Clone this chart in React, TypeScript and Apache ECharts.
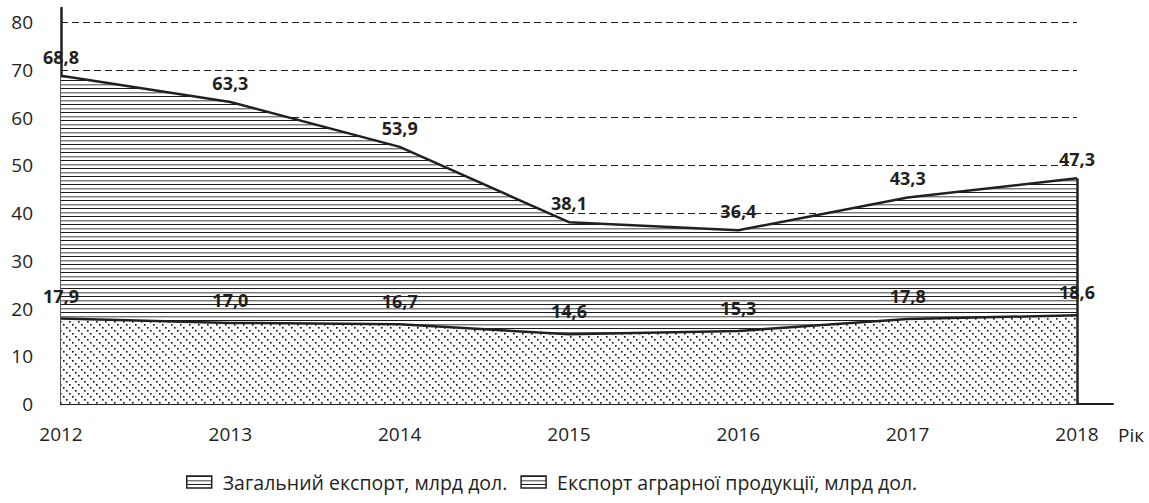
import React, { useEffect, useRef } from "react";
import * as echarts from "echarts";

const years = [2012, 2013, 2014, 2015, 2016, 2017, 2018];
const totalExport = [68.8, 63.3, 53.9, 38.1, 36.4, 43.3, 47.3];
const agroExport = [17.9, 17.0, 16.7, 14.6, 15.3, 17.8, 18.6];
const seriesNames = [
  "Загальний експорт, млрд дол.",
  "Експорт аграрної продукції, млрд дол.",
];
const xAxisName = "Рік";
const yTicks = [0, 10, 20, 30, 40, 50, 60, 70, 80];

const FONT = "'Open Sans', 'Noto Sans', sans-serif";
const INK = "#231f20";

function fmt(v: number) {
  return v.toFixed(1).replace(".", ",");
}

function makeStripes() {
  const c = document.createElement("canvas");
  c.width = 8;
  c.height = 8;
  const ctx = c.getContext("2d")!;
  ctx.fillStyle = "#ffffff";
  ctx.fillRect(0, 0, 8, 8);
  ctx.fillStyle = "#1a1a1a";
  ctx.fillRect(0, 0, 8, 1);
  ctx.fillStyle = "#7a7a7a";
  ctx.fillRect(0, 4, 8, 1);
  ctx.fillStyle = "#c4c4c4";
  ctx.fillRect(0, 5, 8, 1);
  return c;
}

function makeDots() {
  const n = 9;
  const c = document.createElement("canvas");
  c.width = n;
  c.height = n;
  const ctx = c.getContext("2d")!;
  ctx.fillStyle = "#ffffff";
  ctx.fillRect(0, 0, n, n);
  ctx.fillStyle = "#111111";
  for (let i = 0; i < n; i += 3) {
    ctx.fillRect(i, i, 1.6, 1.6);
  }
  return c;
}

export default function App() {
  const ref = useRef<HTMLDivElement>(null);

  useEffect(() => {
    document.body.style.margin = "0";
    if (!ref.current) return;
    const chart = echarts.init(ref.current, undefined, { renderer: "svg" });
    const stripes = { image: makeStripes(), repeat: "repeat" };
    const dots = { image: makeDots(), repeat: "repeat" };
    const last = years.length - 1;

    const labelBase = {
      show: true,
      position: "top",
      fontFamily: FONT,
      fontWeight: "bold",
      fontSize: 18,
      color: INK,
      formatter: (p: any) => fmt(p.value[1]),
    };

    const option: any = {
      animation: false,
      backgroundColor: "#ffffff",
      grid: [
        { left: 61, right: 72, top: 8, bottom: 99, containLabel: false },
        { left: 61, right: 36, top: 8, bottom: 99, containLabel: false },
      ],
      xAxis: [
        {
          type: "value",
          gridIndex: 0,
          min: years[0],
          max: years[last],
          interval: 1,
          axisLine: { show: true, onZero: false, lineStyle: { color: INK, width: 2 } },
          axisTick: { show: false },
          splitLine: { show: false },
          axisLabel: {
            margin: 20,
            fontFamily: FONT,
            fontSize: 19,
            color: INK,
            formatter: (v: number) => (years.includes(v) ? String(v) : ""),
          },
        },
        {
          type: "value",
          gridIndex: 1,
          min: 0,
          max: 1,
          name: xAxisName,
          nameLocation: "end",
          nameGap: 5,
          nameTextStyle: {
            fontFamily: FONT,
            fontSize: 19,
            color: INK,
            align: "left",
            verticalAlign: "top",
            padding: [21, 0, 0, 0],
          },
          axisLine: { show: true, onZero: false, lineStyle: { color: INK, width: 2 } },
          axisTick: { show: false },
          splitLine: { show: false },
          axisLabel: { show: false },
        },
      ],
      yAxis: [
        {
          type: "value",
          gridIndex: 0,
          min: yTicks[0],
          max: 83,
          interval: 10,
          axisLine: { show: true, lineStyle: { color: INK, width: 2.5 } },
          axisTick: { show: false },
          axisLabel: {
            showMaxLabel: false,
            margin: 28,
            fontFamily: FONT,
            fontSize: 19,
            color: INK,
            formatter: (v: number) => (yTicks.includes(v) ? String(v) : ""),
          },
          splitLine: {
            show: true,
            showMaxLine: false,
            lineStyle: { color: INK, width: 1.2, type: [7, 4] },
          },
        },
        {
          type: "value",
          gridIndex: 1,
          min: 0,
          max: 1,
          show: false,
        },
      ],
      legend: {
        left: 181,
        top: 467,
        itemWidth: 25,
        itemHeight: 12,
        itemGap: 13,
        icon: "rect",
        textStyle: {
          fontFamily: FONT,
          fontSize: 19.5,
          color: INK,
          padding: [0, 0, 0, 6],
        },
        data: seriesNames.map((n) => ({
          name: n,
          icon: "rect",
          itemStyle: { color: stripes, borderColor: INK, borderWidth: 1.5 },
        })),
      },
      series: [
        {
          type: "line",
          name: seriesNames[0],
          xAxisIndex: 0,
          yAxisIndex: 0,
          data: years.map((y, i) => [y, totalExport[i]]),
          symbol: "circle",
          symbolSize: 0.1,
          itemStyle: { color: "rgba(0,0,0,0)" },
          lineStyle: { color: INK, width: 2.5 },
          areaStyle: { color: stripes, opacity: 1, origin: "start" },
          label: { ...labelBase, distance: 10 },
          z: 2,
          markLine: {
            symbol: "none",
            silent: true,
            label: { show: false },
            lineStyle: { color: INK, width: 2.5, type: "solid" },
            data: [[{ coord: [years[last], 0] }, { coord: [years[last], totalExport[last]] }]],
          },
        },
        {
          type: "line",
          name: seriesNames[1],
          xAxisIndex: 0,
          yAxisIndex: 0,
          data: years.map((y, i) => [y, agroExport[i]]),
          symbol: "circle",
          symbolSize: 0.1,
          itemStyle: { color: "rgba(0,0,0,0)" },
          lineStyle: { color: INK, width: 2.5 },
          areaStyle: { color: dots, opacity: 1, origin: "start" },
          label: { ...labelBase, distance: 14 },
          z: 3,
        },
      ],
    };
    chart.setOption(option);
    return () => chart.dispose();
  }, []);

  return <div ref={ref} style={{ width: 1149, height: 503 }} />;
}
